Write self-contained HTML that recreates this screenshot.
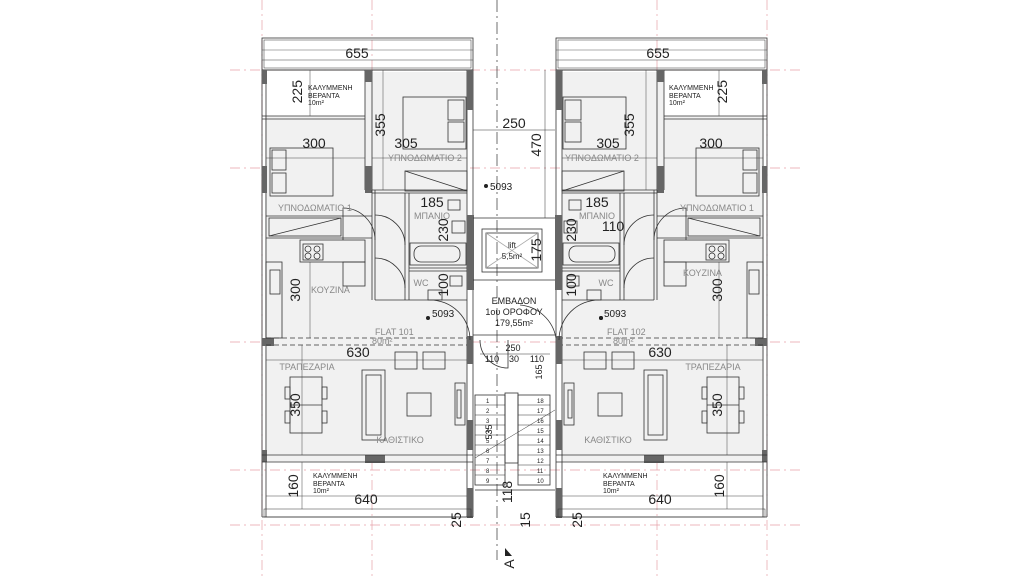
<!DOCTYPE html>
<html><head><meta charset="utf-8"><style>
html,body{margin:0;padding:0;background:#fff;width:1024px;height:576px;overflow:hidden}
svg{display:block}
text{font-family:"Liberation Sans",sans-serif;fill:#222}
.d{font-size:14px}
.s{font-size:7px}
.g{font-size:9px;fill:#888}
.n{font-size:6px}
</style></head><body>
<svg width="1024" height="576" viewBox="0 0 1024 576" xmlns="http://www.w3.org/2000/svg">
<defs>
<g id="half" fill="none" stroke="#333" stroke-width="0.8">
  <!-- floor fill -->
  <rect x="265" y="116" width="202" height="346" fill="#f1f1f1" stroke="none"/>
  <rect x="365" y="72" width="102" height="46" fill="#f1f1f1" stroke="none"/>
  <!-- top veranda frame -->
  <rect x="262" y="38" width="211" height="32"/>
  <rect x="264" y="40" width="207" height="28" stroke-width="0.5"/>
  <line x1="262" y1="50" x2="473" y2="50" stroke-width="0.4"/>
  <!-- outer walls -->
  <line x1="262" y1="70" x2="262" y2="517"/><line x1="266" y1="70" x2="266" y2="517"/>
  <line x1="467" y1="70" x2="467" y2="517"/><line x1="473" y1="70" x2="473" y2="517"/>
  <line x1="262" y1="70" x2="473" y2="70"/>
  <line x1="365" y1="70" x2="365" y2="190"/><line x1="372" y1="70" x2="372" y2="190"/>
  <line x1="262" y1="116" x2="365" y2="116"/><line x1="262" y1="119" x2="365" y2="119"/>
  <!-- dark wall blocks -->
  <g fill="#666" stroke="none">
    <rect x="262" y="70" width="5" height="14"/><rect x="262" y="166" width="5" height="27"/>
    <rect x="365" y="70" width="7" height="12"/><rect x="365" y="166" width="7" height="27"/>
    <rect x="467" y="70" width="6" height="40"/><rect x="467" y="215" width="7" height="75"/>
    <rect x="262" y="338" width="12" height="8"/><rect x="467" y="336" width="6" height="28"/>
    <rect x="467" y="420" width="6" height="30"/><rect x="365" y="455" width="20" height="8"/>
    <rect x="467" y="488" width="6" height="30"/><rect x="262" y="450" width="5" height="12"/>
  </g>
  <!-- bedroom 2 -->
  <rect x="403" y="97" width="63" height="52"/>
  <rect x="448" y="100" width="16" height="20"/><rect x="448" y="122" width="16" height="20"/>
  <rect x="405" y="171" width="62" height="20"/><line x1="405" y1="171" x2="467" y2="191"/>
  <line x1="372" y1="190" x2="467" y2="190"/><line x1="372" y1="193" x2="467" y2="193"/>
  <!-- bedroom 1 -->
  <rect x="270" y="148" width="63" height="48"/>
  <rect x="272" y="150" width="14" height="20"/><rect x="272" y="173" width="14" height="20"/>
  <rect x="269" y="218" width="72" height="18"/><line x1="269" y1="236" x2="341" y2="218"/>
  <line x1="266" y1="216" x2="372" y2="216"/><line x1="266" y1="238" x2="372" y2="238"/>
  <line x1="372" y1="190" x2="372" y2="300"/><line x1="375" y1="190" x2="375" y2="300"/>
  <!-- doors -->
  <path d="M375 240 A32 32 0 0 0 343 208 L343 240"/>
  <path d="M375 215 A30 30 0 0 1 405 245"/>
  <path d="M375 258 A30 30 0 0 1 405 288"/>
  <path d="M430 300 A40 40 0 0 1 470 340"/>
  <!-- bathroom -->
  <line x1="405" y1="193" x2="405" y2="300"/><line x1="409" y1="193" x2="409" y2="300"/>
  <rect x="410" y="243" width="56" height="22"/><rect x="414" y="246" width="46" height="16" rx="7"/>
  <rect x="452" y="221" width="13" height="12"/><rect x="448" y="200" width="12" height="10"/>
  <line x1="409" y1="268" x2="467" y2="268"/><line x1="409" y1="271" x2="467" y2="271"/>
  <rect x="428" y="290" width="14" height="10"/><rect x="450" y="276" width="12" height="10"/>
  <line x1="375" y1="300" x2="467" y2="300"/>
  <!-- kitchen -->
  <rect x="266" y="262" width="16" height="76"/><rect x="270" y="270" width="10" height="24"/>
  <rect x="300" y="240" width="65" height="22"/><rect x="303" y="244" width="20" height="16"/>
  <circle cx="308" cy="249" r="3"/><circle cx="317" cy="249" r="3"/><circle cx="308" cy="256" r="3"/><circle cx="317" cy="256" r="3"/>
  <rect x="343" y="262" width="22" height="24"/>
  <line x1="266" y1="338" x2="467" y2="338" stroke-dasharray="5 3"/>
  <line x1="266" y1="345" x2="467" y2="345" stroke-dasharray="5 3"/>
  <!-- living -->
  <rect x="395" y="352" width="22" height="17"/><rect x="423" y="352" width="22" height="17"/>
  <rect x="362" y="370" width="23" height="70"/><rect x="366" y="375" width="15" height="60"/>
  <rect x="407" y="393" width="24" height="23"/>
  <rect x="455" y="383" width="10" height="42"/><rect x="457" y="390" width="4" height="28"/>
  <rect x="290" y="377" width="32" height="56"/><line x1="290" y1="405" x2="322" y2="405"/>
  <rect x="285" y="387" width="5" height="12"/><rect x="285" y="411" width="5" height="12"/>
  <rect x="322" y="387" width="5" height="12"/><rect x="322" y="411" width="5" height="12"/>
  <line x1="262" y1="455" x2="473" y2="455"/><line x1="262" y1="462" x2="473" y2="462"/>
  <!-- bottom veranda -->
  <rect x="264" y="509" width="207" height="8" stroke-width="0.5"/>
  <line x1="262" y1="517" x2="473" y2="517"/>
  <!-- dimension lines -->
  <g stroke-width="0.5" stroke="#444">
    <line x1="262" y1="60" x2="473" y2="60"/>
    <line x1="310" y1="70" x2="310" y2="116"/>
    <line x1="383" y1="70" x2="383" y2="190"/>
    <line x1="266" y1="158" x2="365" y2="158"/>
    <line x1="372" y1="158" x2="467" y2="158"/>
    <line x1="266" y1="360" x2="467" y2="360"/>
    <line x1="302" y1="345" x2="302" y2="455"/>
    <line x1="302" y1="462" x2="302" y2="509"/>
    <line x1="266" y1="496" x2="467" y2="496"/>
    <line x1="310" y1="262" x2="310" y2="338"/>
  </g>
  <circle cx="428" cy="318" r="2" fill="#222" stroke="none"/>
</g>
</defs>
<!-- grid lines -->
<g stroke="#e6a0a8" stroke-width="0.7" stroke-dasharray="10 4 2 4" fill="none">
  <line x1="230" y1="70" x2="800" y2="70"/>
  <line x1="230" y1="168" x2="800" y2="168"/>
  <line x1="230" y1="342" x2="800" y2="342"/>
  <line x1="230" y1="470" x2="800" y2="470"/>
  <line x1="230" y1="525" x2="800" y2="525"/>
  <line x1="372" y1="0" x2="372" y2="576"/>
  <line x1="657" y1="0" x2="657" y2="576"/>
  <line x1="262" y1="0" x2="262" y2="576"/>
  <line x1="767" y1="0" x2="767" y2="576"/>
</g>
<use href="#half"/>
<use href="#half" transform="translate(1029,0) scale(-1,1)"/>
<!-- corridor -->
<g fill="none" stroke="#333" stroke-width="0.8">
  <line x1="473" y1="218" x2="555" y2="218"/>
  <rect x="482" y="229" width="60" height="43"/><rect x="486" y="233" width="52" height="35"/>
  <line x1="486" y1="233" x2="538" y2="268" stroke="#aaa"/><line x1="538" y1="233" x2="486" y2="268" stroke="#aaa"/>
  <line x1="473" y1="280" x2="555" y2="280"/>
  <line x1="473" y1="335" x2="555" y2="335"/>
  <path d="M480 340 A28 28 0 0 0 508 368 L508 340"/>
  <path d="M520 305 A40 40 0 0 1 556 338"/>
  <rect x="475" y="395" width="30" height="90"/><rect x="518" y="395" width="32" height="90"/>
  <rect x="505" y="393" width="13" height="70"/>
  <line x1="475" y1="490" x2="555" y2="490"/>
  <line x1="475" y1="458" x2="555" y2="410" stroke-width="0.5"/>
  <g stroke-width="0.5">
    <line x1="475" y1="405" x2="505" y2="405"/><line x1="475" y1="415" x2="505" y2="415"/><line x1="475" y1="425" x2="505" y2="425"/><line x1="475" y1="435" x2="505" y2="435"/><line x1="475" y1="445" x2="505" y2="445"/><line x1="475" y1="455" x2="505" y2="455"/><line x1="475" y1="465" x2="505" y2="465"/><line x1="475" y1="475" x2="505" y2="475"/>
    <line x1="518" y1="405" x2="550" y2="405"/><line x1="518" y1="415" x2="550" y2="415"/><line x1="518" y1="425" x2="550" y2="425"/><line x1="518" y1="435" x2="550" y2="435"/><line x1="518" y1="445" x2="550" y2="445"/><line x1="518" y1="455" x2="550" y2="455"/><line x1="518" y1="465" x2="550" y2="465"/><line x1="518" y1="475" x2="550" y2="475"/>
    <line x1="473" y1="130" x2="555" y2="130"/><line x1="545" y1="70" x2="545" y2="218"/>
    <line x1="480" y1="354" x2="550" y2="354"/>
  </g>
  <line x1="497" y1="0" x2="497" y2="560" stroke="#333" stroke-width="0.7" stroke-dasharray="12 4 2 4"/>
</g>
<path d="M505 548 L512 556 L505 556 Z" fill="#222"/>
<circle cx="486" cy="186" r="2" fill="#222"/>
<!-- left texts -->
<text class="d" x="357" y="58" text-anchor="middle">655</text>
<text class="d" x="658" y="58" text-anchor="middle">655</text>
<text class="s" x="308" y="90">ΚΑΛΥΜΜΕΝΗ</text><text class="s" x="308" y="98">ΒΕΡΑΝΤΑ</text><text class="s" x="308" y="105">10m²</text>
<text class="s" x="669" y="90">ΚΑΛΥΜΜΕΝΗ</text><text class="s" x="669" y="98">ΒΕΡΑΝΤΑ</text><text class="s" x="669" y="105">10m²</text>
<text class="d" transform="translate(302,80) rotate(-90)" text-anchor="end">225</text>
<text class="d" transform="translate(727,80) rotate(-90)" text-anchor="end">225</text>
<text class="d" transform="translate(385,125) rotate(-90)" text-anchor="middle">355</text>
<text class="d" transform="translate(634,125) rotate(-90)" text-anchor="middle">355</text>
<text class="d" x="314" y="148" text-anchor="middle">300</text><text class="d" x="711" y="148" text-anchor="middle">300</text>
<text class="d" x="406" y="148" text-anchor="middle">305</text><text class="d" x="608" y="148" text-anchor="middle">305</text>
<text class="g" x="425" y="161" text-anchor="middle">ΥΠΝΟΔΩΜΑΤΙΟ 2</text><text class="g" x="602" y="161" text-anchor="middle">ΥΠΝΟΔΩΜΑΤΙΟ 2</text>
<text class="g" x="315" y="211" text-anchor="middle">ΥΠΝΟΔΩΜΑΤΙΟ 1</text><text class="g" x="717" y="211" text-anchor="middle">ΥΠΝΟΔΩΜΑΤΙΟ 1</text>
<text class="d" x="432" y="207" text-anchor="middle">185</text><text class="d" x="597" y="207" text-anchor="middle">185</text>
<text class="g" x="432" y="219" text-anchor="middle">ΜΠΑΝΙΟ</text><text class="g" x="597" y="219" text-anchor="middle">ΜΠΑΝΙΟ</text>
<text class="d" transform="translate(448,230) rotate(-90)" text-anchor="middle">230</text>
<text class="d" transform="translate(576,230) rotate(-90)" text-anchor="middle">230</text>
<text class="d" transform="translate(448,285) rotate(-90)" text-anchor="middle">100</text>
<text class="d" transform="translate(576,285) rotate(-90)" text-anchor="middle">100</text>
<text class="g" x="421" y="286" text-anchor="middle">WC</text><text class="g" x="606" y="286" text-anchor="middle">WC</text>
<text class="d" x="613" y="231" text-anchor="middle">110</text>
<text class="g" x="311" y="293">ΚΟΥΖΙΝΑ</text><text class="g" x="683" y="276">ΚΟΥΖΙΝΑ</text>
<text class="d" transform="translate(300,290) rotate(-90)" text-anchor="middle">300</text>
<text class="d" transform="translate(722,290) rotate(-90)" text-anchor="middle">300</text>
<text class="g" x="375" y="335" font-size="9">FLAT 101</text><text class="g" x="372" y="344" font-size="7">80m²</text>
<text class="g" x="607" y="335">FLAT 102</text><text class="g" x="613" y="344" font-size="7">80m²</text>
<text font-size="10" x="432" y="317">5093</text><text font-size="10" x="604" y="317">5093</text>
<circle cx="601" cy="318" r="2" fill="#222"/>
<text class="d" x="358" y="357" text-anchor="middle">630</text><text class="d" x="660" y="357" text-anchor="middle">630</text>
<text class="g" x="307" y="370" text-anchor="middle">ΤΡΑΠΕΖΑΡΙΑ</text><text class="g" x="713" y="370" text-anchor="middle">ΤΡΑΠΕΖΑΡΙΑ</text>
<text class="d" transform="translate(300,405) rotate(-90)" text-anchor="middle">350</text>
<text class="d" transform="translate(722,405) rotate(-90)" text-anchor="middle">350</text>
<text class="g" x="400" y="443" text-anchor="middle">ΚΑΘΙΣΤΙΚΟ</text><text class="g" x="608" y="443" text-anchor="middle">ΚΑΘΙΣΤΙΚΟ</text>
<text class="s" x="313" y="478">ΚΑΛΥΜΜΕΝΗ</text><text class="s" x="313" y="486">ΒΕΡΑΝΤΑ</text><text class="s" x="313" y="493">10m²</text>
<text class="s" x="603" y="478">ΚΑΛΥΜΜΕΝΗ</text><text class="s" x="603" y="486">ΒΕΡΑΝΤΑ</text><text class="s" x="603" y="493">10m²</text>
<text class="d" transform="translate(298,486) rotate(-90)" text-anchor="middle">160</text>
<text class="d" transform="translate(724,486) rotate(-90)" text-anchor="middle">160</text>
<text class="d" x="366" y="504" text-anchor="middle">640</text><text class="d" x="660" y="504" text-anchor="middle">640</text>
<text class="d" transform="translate(461,520) rotate(-90)" text-anchor="middle">25</text>
<text class="d" transform="translate(582,520) rotate(-90)" text-anchor="middle">25</text>
<text class="d" transform="translate(530,520) rotate(-90)" text-anchor="middle">15</text>
<text class="d" transform="translate(514,564) rotate(-90)" text-anchor="middle" font-size="11">A</text>
<!-- corridor texts -->
<text class="d" x="514" y="128" text-anchor="middle">250</text>
<text class="d" transform="translate(541,145) rotate(-90)" text-anchor="middle">470</text>
<text font-size="10" x="490" y="190">5093</text>
<text font-size="8" x="512" y="248" text-anchor="middle" fill="#666">lift</text>
<text font-size="8" x="512" y="259" text-anchor="middle" fill="#666">5,5m²</text>
<text class="d" transform="translate(541,250) rotate(-90)" text-anchor="middle">175</text>
<text font-size="9" fill="#666" x="514" y="304" text-anchor="middle">ΕΜΒΑΔΟΝ</text>
<text font-size="9" fill="#666" x="514" y="315" text-anchor="middle">1ου ΟΡΟΦΟΥ</text>
<text font-size="9" fill="#666" x="514" y="326" text-anchor="middle">179,55m²</text>
<text font-size="9" x="513" y="351" text-anchor="middle">250</text>
<text font-size="9" x="492" y="362" text-anchor="middle">110</text>
<text font-size="9" x="514" y="362" text-anchor="middle">30</text>
<text font-size="9" x="537" y="362" text-anchor="middle">110</text>
<text font-size="9" transform="translate(542,372) rotate(-90)" text-anchor="middle">165</text>
<text font-size="9" transform="translate(492,432) rotate(-90)" text-anchor="middle">535</text>
<text class="d" transform="translate(512,492) rotate(-90)" text-anchor="middle">118</text>
<g class="n">
<text class="n" x="486" y="403">1</text><text class="n" x="486" y="413">2</text><text class="n" x="486" y="423">3</text><text class="n" x="486" y="433">4</text><text class="n" x="486" y="443">5</text><text class="n" x="486" y="453">6</text><text class="n" x="486" y="463">7</text><text class="n" x="486" y="473">8</text><text class="n" x="486" y="483">9</text>
<text class="n" x="537" y="403">18</text><text class="n" x="537" y="413">17</text><text class="n" x="537" y="423">16</text><text class="n" x="537" y="433">15</text><text class="n" x="537" y="443">14</text><text class="n" x="537" y="453">13</text><text class="n" x="537" y="463">12</text><text class="n" x="537" y="473">11</text><text class="n" x="537" y="483">10</text>
</g>
</svg>
</body></html>
